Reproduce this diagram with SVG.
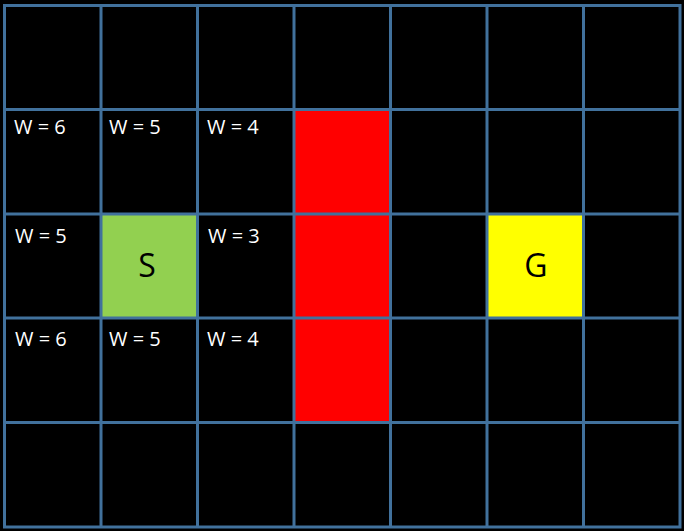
<svg xmlns="http://www.w3.org/2000/svg" width="684" height="531" viewBox="0 0 684 531">
<style>
.grid{stroke:#41719C;stroke-width:3;fill:none}
.w{fill:#FFFFFF;font-family:"Open Sans","Liberation Sans",sans-serif;font-size:20px}
.big{fill:#000000;font-family:"Open Sans","Liberation Sans",sans-serif;font-size:32px;text-anchor:middle}
</style>
<rect x="0" y="0" width="684" height="531" fill="#000000"/>
<g id="cell-red-1"><rect x="294" y="109.5" width="96.5" height="104.5" fill="#FF0000"/></g>
<g id="cell-red-2"><rect x="294" y="214" width="96.5" height="104" fill="#FF0000"/></g>
<g id="cell-red-3"><rect x="294" y="318" width="96.5" height="104.5" fill="#FF0000"/></g>
<g id="cell-S"><rect x="101" y="214" width="96.5" height="104" fill="#92D050"/><text class="big" x="147" y="277">S</text></g>
<g id="cell-G"><rect x="487" y="214" width="96.5" height="104" fill="#FFFF00"/><text class="big" x="536" y="277">G</text></g>
<g id="w-r1c1"><text class="w" x="14" y="134">W = 6</text></g>
<g id="w-r1c2"><text class="w" x="109" y="134">W = 5</text></g>
<g id="w-r1c3"><text class="w" x="207" y="134">W = 4</text></g>
<g id="w-r2c1"><text class="w" x="15" y="243">W = 5</text></g>
<g id="w-r2c3"><text class="w" x="208" y="243">W = 3</text></g>
<g id="w-r3c1"><text class="w" x="15" y="346">W = 6</text></g>
<g id="w-r3c2"><text class="w" x="109" y="346">W = 5</text></g>
<g id="w-r3c3"><text class="w" x="207" y="346">W = 4</text></g>
<g id="grid" class="grid">
<rect x="4.5" y="5.5" width="675.5" height="521.5"/>
<path d="M101 5.5V527M197.5 5.5V527M294 5.5V527M390.5 5.5V527M487 5.5V527M583.5 5.5V527"/>
<path d="M4.5 109.5H680M4.5 214H680M4.5 318H680M4.5 422.5H680"/>
</g>
</svg>
